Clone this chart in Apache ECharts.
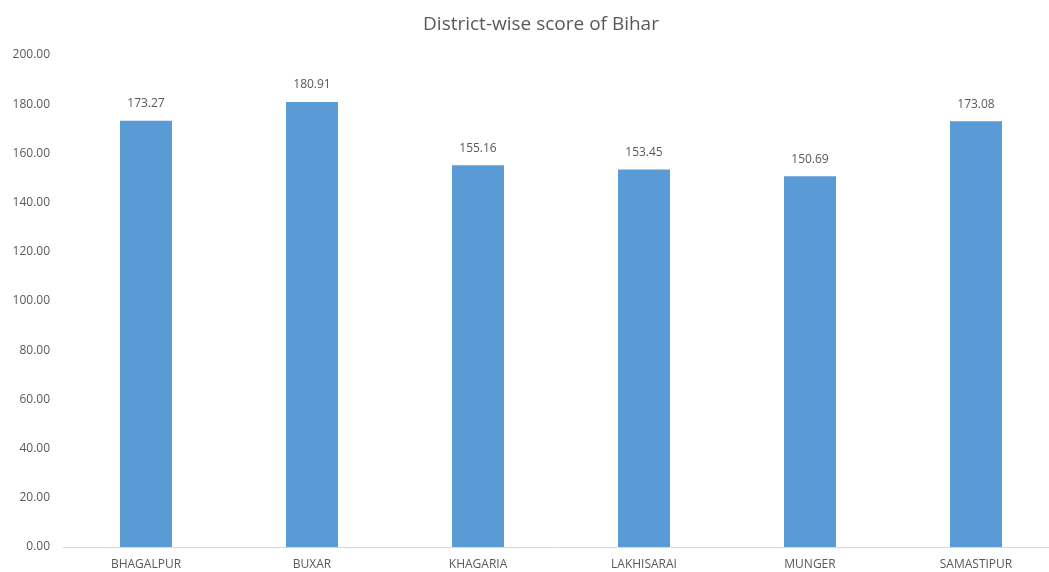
<!DOCTYPE html>
<html>
<head>
<meta charset="utf-8">
<script src="https://cdn.jsdelivr.net/npm/echarts@6/dist/echarts.min.js"></script>
<style>
  html, body { margin: 0; padding: 0; background: #fff; }
  #chart { width: 1049px; height: 572px; }
</style>
</head>
<body>
<div id="chart"></div>
<script>
const districts = ['BHAGALPUR', 'BUXAR', 'KHAGARIA', 'LAKHISARAI', 'MUNGER', 'SAMASTIPUR']
const scores = [173.27, 180.91, 155.16, 153.45, 150.69, 173.08]

const textColor = '#595959'
const fontFamily = '"Open Sans", "Noto Sans", sans-serif'

const chart = echarts.init(document.getElementById('chart'))
chart.setOption({
  animation: false,
  title: {
    text: 'District-wise score of Bihar',
    left: 536,
    top: 10,
    textAlign: 'center',
    textStyle: { color: textColor, fontSize: 19, fontWeight: 'normal', fontFamily }
  },
  // plot area runs a little past the right edge, as in the source image
  grid: { left: 63, width: 996, top: 55, bottom: 25, containLabel: false, outerBoundsMode: 'none' },
  xAxis: {
    type: 'category',
    data: districts,
    axisLine: { lineStyle: { color: '#d9d9d9' } },
    axisTick: { show: false },
    axisLabel: { color: textColor, fontSize: 12, fontFamily, margin: 12 }
  },
  yAxis: {
    type: 'value',
    min: 0,
    max: 200,
    interval: 20,
    splitLine: { show: false },
    axisLine: { show: false },
    axisTick: { show: false },
    axisLabel: {
      color: textColor,
      fontSize: 12,
      fontFamily,
      margin: 13,
      formatter: v => v.toFixed(2)
    }
  },
  series: [{
    type: 'bar',
    data: scores,
    barWidth: 52,
    itemStyle: { color: '#5b9bd5' },
    label: {
      show: true,
      position: 'top',
      distance: 11,
      color: textColor,
      fontSize: 12,
      fontFamily,
      formatter: p => p.value.toFixed(2)
    }
  }]
})
</script>
</body>
</html>
